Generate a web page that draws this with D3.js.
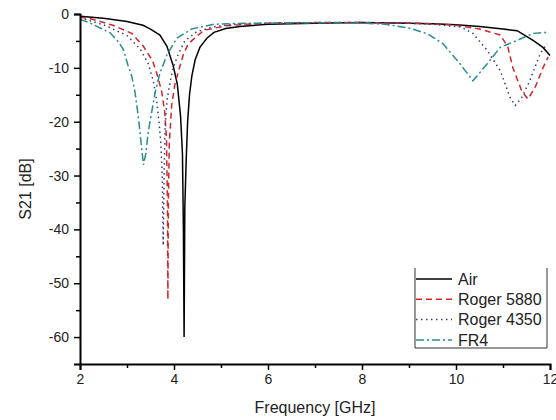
<!DOCTYPE html>
<html><head><meta charset="utf-8">
<script src="https://cdn.jsdelivr.net/npm/d3@7"></script>
<style>
body{margin:0;background:#fff;}
svg{display:block;font-family:"Liberation Sans",Arial,sans-serif;}
</style></head>
<body><svg id="chart" width="556" height="420"></svg>
<script>
const seriesNames = ["Air", "Roger 5880", "Roger 4350", "FR4"];

const airFreq = [2, 2.5, 3, 3.34, 3.5, 3.7, 3.85, 3.98, 4.07, 4.14, 4.18, 4.2, 4.215, 4.23, 4.26, 4.29, 4.33, 4.38, 4.45, 4.55, 4.7, 4.85, 5.1, 5.4, 6, 7, 8, 9, 9.5, 10, 10.5, 11, 11.3, 11.64, 11.85, 12];
const airS21  = [-0.4, -0.8, -1.4, -2.1, -2.8, -3.9, -6, -9.5, -13, -19, -26, -40, -60, -36, -27, -20, -15, -11.5, -8.5, -6.2, -4.5, -3.4, -2.7, -2.3, -1.9, -1.7, -1.6, -1.7, -1.8, -2.0, -2.3, -2.8, -3.1, -4.9, -6.2, -7.7];

const r5880Freq = [2, 2.2, 2.7, 3.1, 3.35, 3.55, 3.65, 3.74, 3.8, 3.84, 3.86, 3.87, 3.88, 3.9, 3.95, 4.02, 4.1, 4.2, 4.3, 4.5, 4.65, 5.1, 5.7, 6, 7, 8, 9, 9.5, 10, 10.5, 10.94, 11.1, 11.21, 11.4, 11.53, 11.68, 11.85, 11.96];
const r5880S21  = [-0.6, -0.8, -2.1, -3.6, -6, -8.8, -11.5, -14.5, -18, -23, -35, -53, -35, -24, -17, -13, -10.5, -7.5, -5.6, -4, -3, -2.2, -1.8, -1.7, -1.6, -1.6, -1.7, -1.8, -2.1, -2.8, -3.9, -6, -10, -14.3, -15.8, -13.7, -10, -8];

const r4350Freq = [2, 2.5, 3, 3.28, 3.45, 3.56, 3.63, 3.68, 3.72, 3.75, 3.77, 3.79, 3.81, 3.85, 3.91, 3.98, 4.09, 4.23, 4.48, 4.83, 5.26, 6, 7, 8, 9, 9.5, 10.1, 10.36, 10.66, 10.94, 11.15, 11.26, 11.4, 11.57, 11.79, 11.94];
const r4350S21  = [-0.7, -2.0, -4.0, -6.5, -9.2, -12.4, -16, -20, -24, -30, -43, -30, -21, -16, -13, -10, -7.5, -5, -3.3, -2.4, -1.9, -1.7, -1.6, -1.6, -1.7, -1.9, -2.4, -3.6, -6.7, -10.5, -15.5, -17, -15.5, -12.4, -7.4, -5.5];

const fr4Freq = [2, 2.2, 2.43, 2.64, 2.8, 2.92, 3.02, 3.1, 3.17, 3.24, 3.3, 3.35, 3.4, 3.45, 3.53, 3.6, 3.7, 3.85, 4.06, 4.37, 4.85, 5.5, 6, 7, 8, 8.5, 9, 9.4, 9.72, 10.09, 10.36, 10.66, 10.94, 11.3, 11.64, 11.94];
const fr4S21  = [-1.0, -1.6, -2.6, -3.5, -5, -6.5, -9.5, -11.5, -14.5, -19, -24, -28, -26, -22, -18, -14.5, -11, -7.6, -4.5, -2.8, -1.9, -1.7, -1.7, -1.6, -1.7, -1.9, -2.6, -3.7, -5.5, -9.3, -12.4, -9.3, -6.2, -4.9, -3.6, -3.4];

const xTicks = [2, 4, 6, 8, 10, 12];
const xMinorTicks = [3, 5, 7, 9, 11];
const yTicks = [0, -10, -20, -30, -40, -50, -60];
const yMinorTicks = [-5, -15, -25, -35, -45, -55];

const seriesFreq = [airFreq, r5880Freq, r4350Freq, fr4Freq];
const seriesS21 = [airS21, r5880S21, r4350S21, fr4S21];
const colors = ["#000000", "#d0262c", "#3a3a80", "#2a8c8c"];
const dashes = [null, "6,4", "1.5,3.5", "8,3,2,3"];

const svg = d3.select("#chart");
const x = d3.scaleLinear().domain([2, 12]).range([80, 550]);
const y = d3.scaleLinear().domain([-65, 0]).range([364, 14]);

// curves
const line = d3.line().x(d => x(d[0])).y(d => y(d[1]));
seriesNames.forEach((name, i) => {
  const pts = seriesFreq[i].map((f, j) => [f, seriesS21[i][j]]);
  svg.append("path").datum(pts)
    .attr("d", line)
    .attr("fill", "none")
    .attr("stroke", colors[i])
    .attr("stroke-width", 1.5)
    .attr("stroke-dasharray", dashes[i]);
});

// axes
const fmt = d => String(d);
const xAxis = svg.append("g").attr("transform", `translate(0,${y(-65)})`)
  .call(d3.axisBottom(x).tickValues(xTicks).tickSize(6).tickPadding(4).tickFormat(fmt));
const xMinor = svg.append("g").attr("transform", `translate(0,${y(-65)})`)
  .call(d3.axisBottom(x).tickValues(xMinorTicks).tickSize(4).tickFormat(""));
const yAxis = svg.append("g").attr("transform", `translate(${x(2)},0)`)
  .call(d3.axisLeft(y).tickValues(yTicks).tickSize(6).tickPadding(5).tickFormat(fmt));
const yMinor = svg.append("g").attr("transform", `translate(${x(2)},0)`)
  .call(d3.axisLeft(y).tickValues(yMinorTicks).tickSize(4).tickFormat(""));

[xAxis, xMinor, yAxis, yMinor].forEach(g => {
  g.select(".domain").attr("stroke", "#000").attr("stroke-width", 2);
  g.selectAll(".tick line").attr("stroke", "#000").attr("stroke-width", 1.5);
  g.selectAll(".tick text").attr("font-size", 14).attr("font-family", "Liberation Sans, Arial, sans-serif").attr("fill", "#222");
});
xMinor.select(".domain").remove();
yMinor.select(".domain").remove();

// axis titles
svg.append("text").attr("x", 315).attr("y", 413).attr("text-anchor", "middle")
  .attr("font-size", 16).attr("fill", "#222").text("Frequency [GHz]");
svg.append("text").attr("transform", `translate(31,${(y(0)+y(-65))/2}) rotate(-90)`)
  .attr("text-anchor", "middle").attr("font-size", 16).attr("fill", "#222").text("S21 [dB]");

// legend
const lg = svg.append("g");
const lx0 = 415, lx1 = 547, ly0 = 268, ly1 = 348;
lg.append("path").attr("d", `M${lx0},${ly0}V${ly1}H${lx1}V${ly0}`)
  .attr("fill", "#fff").attr("stroke", "#333").attr("stroke-width", 1);
seriesNames.forEach((name, i) => {
  const yy = 279 + i * 20.3;
  lg.append("line").attr("x1", 416).attr("x2", 452).attr("y1", yy).attr("y2", yy)
    .attr("stroke", colors[i]).attr("stroke-width", 1.5).attr("stroke-dasharray", dashes[i]);
  lg.append("text").attr("x", 458).attr("y", yy).attr("dy", "0.36em")
    .attr("font-size", 16).attr("fill", "#222").text(name);
});
</script>
</body></html>
